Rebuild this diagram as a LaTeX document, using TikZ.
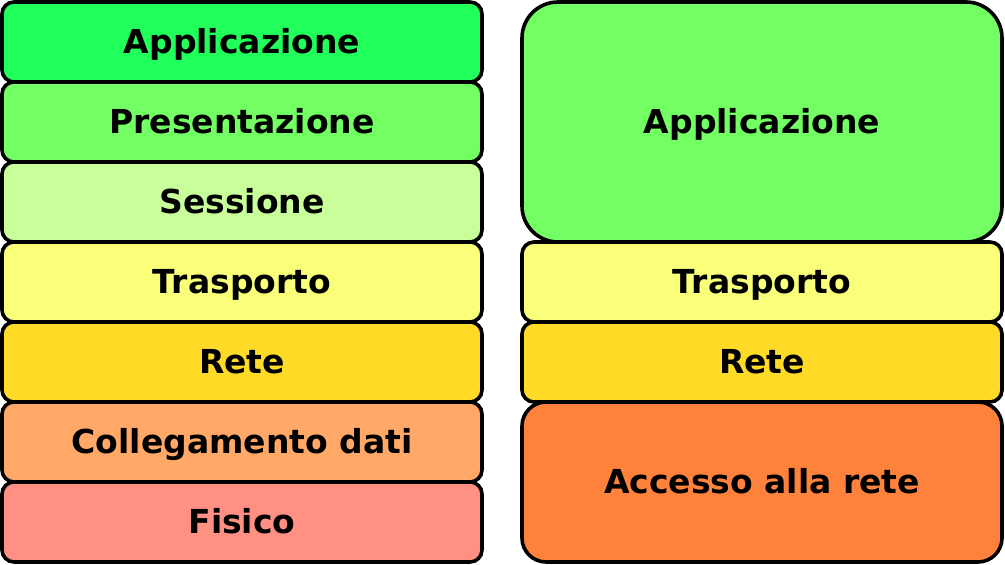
\documentclass[tikz,border=0pt]{standalone}
\usepackage{fontspec}
\setmainfont{DejaVu Sans}
\usetikzlibrary{positioning}
\definecolor{osiapp}{HTML}{21FF5A}
\definecolor{osipres}{HTML}{73FF63}
\definecolor{osises}{HTML}{C8FF9B}
\definecolor{ositra}{HTML}{FAFF7A}
\definecolor{osirete}{HTML}{FFDA27}
\definecolor{osicoll}{HTML}{FFA867}
\definecolor{osifis}{HTML}{FF9083}
\definecolor{tcpacc}{HTML}{FF823C}

\begin{document}
\begin{tikzpicture}[layer/.style={draw,line width=1.8pt,rounded corners=6pt,minimum width=240pt,minimum height=40pt,outer sep=0pt,inner sep=0pt,text height=12pt,text depth=0pt,font=\fontsize{16.5}{20}\selectfont\bfseries},node distance=0pt]
\useasboundingbox (0,0) rectangle (502.5pt,-282.5pt);
% OSI
\node[layer,fill=osiapp,anchor=north west] (app) at (1pt,-1pt) {Applicazione};
\node[layer,fill=osipres,below=of app] (pres) {Presentazione};
\node[layer,fill=osises,below=of pres] (ses) {Sessione};
\node[layer,fill=ositra,below=of ses] (tra) {Trasporto};
\node[layer,fill=osirete,below=of tra] (rete) {Rete};
\node[layer,fill=osicoll,below=of rete] (coll) {Collegamento dati};
\node[layer,fill=osifis,below=of coll] (fis) {Fisico};
% TCP/IP
\node[layer,fill=osipres,minimum height=120pt,rounded corners=18pt,anchor=north west] (tapp) at (261pt,-1pt) {Applicazione};
\node[layer,fill=ositra,below=of tapp] (ttra) {Trasporto};
\node[layer,fill=osirete,below=of ttra] (trete) {Rete};
\node[layer,fill=tcpacc,minimum height=80pt,rounded corners=12pt,below=of trete] (tacc) {Accesso alla rete};
\end{tikzpicture}
\end{document}
